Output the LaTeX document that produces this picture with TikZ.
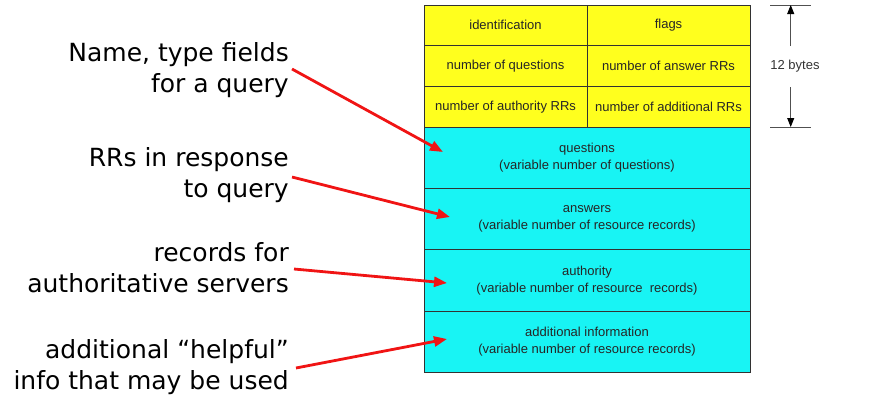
\documentclass[tikz,border=0pt]{standalone}
\usepackage{fontspec}
\setmainfont{Liberation Sans}
\newfontfamily\lblfont{DejaVu Sans}
\usetikzlibrary{arrows.meta}
\definecolor{hdryellow}{RGB}{255,255,30}
\definecolor{bodycyan}{RGB}{24,244,244}
\definecolor{arrred}{RGB}{240,20,20}
\definecolor{borderc}{RGB}{50,50,50}
\definecolor{dimc}{RGB}{80,80,80}
\begin{document}
\begin{tikzpicture}[x=1pt,y=-1pt,
  cell/.style={draw=borderc, line width=0.9pt, inner sep=0pt, minimum width=163pt,
    minimum height=40.67pt, font=\fontsize{13}{15}\selectfont, text=black!85, fill=hdryellow},
  wide/.style={draw=borderc, line width=0.9pt, inner sep=0pt, minimum width=326pt,
    minimum height=61.4pt, font=\fontsize{13}{17}\selectfont, text=black!85, fill=bodycyan, align=center},
  lbl/.style={anchor=east, inner sep=0pt, align=right, font=\lblfont\fontsize{25}{31}\selectfont},
  redarrow/.style={draw=arrred, line width=2.8pt, -{Triangle[length=13pt,width=10pt]}},
  dimline/.style={draw=dimc, line width=0.8pt},
  dimarrow/.style={draw=dimc, line width=0.8pt, -{Triangle[length=9pt,width=7pt,color=black]}}
]
\useasboundingbox (0,0) rectangle (883,416);
% header cells
\node[cell] (ident) at (505.5,25.33) {identification};
\node[cell] (flags) at (668.5,25.33) {flags};
\node[cell] (nq)    at (505.5,66) {number of questions};
\node[cell] (nans)  at (668.5,66) {number of answer RRs};
\node[cell] (nauth) at (505.5,106.67) {number of authority RRs};
\node[cell] (nadd)  at (668.5,106.67) {number of additional RRs};
% body rows
\node[wide] (quest) at (587,157.7) {questions\\(variable number of questions)};
\node[wide] (answ)  at (587,219.1) {answers\\(variable number of resource records)};
\node[wide] (auth)  at (587,280.5) {authority\\(variable number of resource\ \ records)};
\node[wide] (addi)  at (587,341.9) {additional information\\(variable number of resource records)};
% dimension
\coordinate (dtl) at (770,5);
\coordinate (dtr) at (811,5);
\coordinate (dbl) at (770,127);
\coordinate (dbr) at (811,127);
\draw[dimline] (dtl) -- (dtr);
\draw[dimline] (dbl) -- (dbr);
\node[font=\fontsize{13}{15}\selectfont, text=black!80, inner sep=1pt] (bytes) at (795,66) {12 bytes};
\coordinate (upstart) at (790.7,46);
\coordinate (uptip) at (790.7,5);
\coordinate (dnstart) at (790.7,87);
\coordinate (dntip) at (790.7,127);
\draw[dimarrow] (upstart) -- (uptip);
\draw[dimarrow] (dnstart) -- (dntip);
% labels
\node[lbl] (l1) at (289,70) {Name, type fields\\for a query};
\node[lbl] (l2) at (289,175.5) {RRs in response\\to query};
\node[lbl] (l3) at (289,268) {records for\\authoritative servers};
\node[lbl] (l4) at (289,367.5) {additional “helpful”\\info that may be used};
% arrows
\coordinate (a1s) at (292,69);   \coordinate (a1e) at (443,152);
\coordinate (a2s) at (292,177);  \coordinate (a2e) at (450,217);
\coordinate (a3s) at (294,269);  \coordinate (a3e) at (447,283);
\coordinate (a4s) at (296,368);  \coordinate (a4e) at (447,339);
\draw[redarrow] (a1s) -- (a1e);
\draw[redarrow] (a2s) -- (a2e);
\draw[redarrow] (a3s) -- (a3e);
\draw[redarrow] (a4s) -- (a4e);
\end{tikzpicture}
\end{document}
